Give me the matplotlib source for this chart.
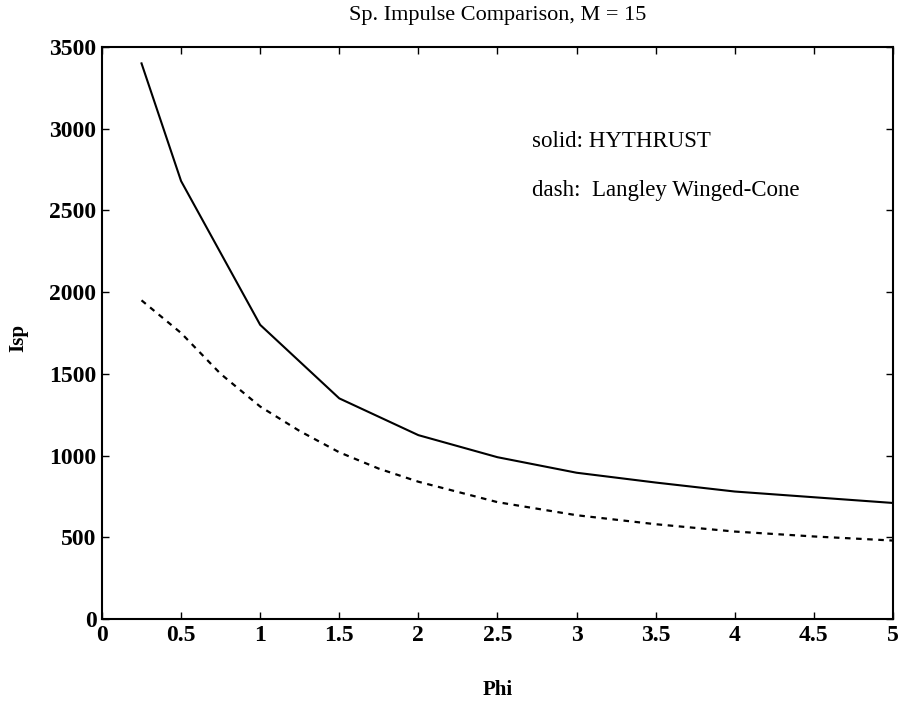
import matplotlib
matplotlib.use("Agg")
import matplotlib.pyplot as plt

# HYTHRUST (solid)
phi_hy = [0.25, 0.5, 1.0, 1.5, 2.0, 2.5, 3.0, 3.5, 4.0, 4.5, 5.0]
isp_hy = [3400, 2680, 1800, 1350, 1125, 990, 895, 835, 780, 745, 710]

# Langley Winged-Cone (dash)
phi_lw = [0.25, 0.5, 0.75, 1.0, 1.25, 1.5, 1.75, 2.0, 2.5, 3.0, 3.5, 4.0, 4.5, 5.0]
isp_lw = [1950, 1750, 1500, 1300, 1150, 1020, 920, 840, 715, 635, 580, 535, 505, 480]

xticks = [0, 0.5, 1, 1.5, 2, 2.5, 3, 3.5, 4, 4.5, 5]
xticklabels = ["0", "0.5", "1", "1.5", "2", "2.5", "3", "3.5", "4", "4.5", "5"]
yticks = [0, 500, 1000, 1500, 2000, 2500, 3000, 3500]

plt.rcParams["font.family"] = ["Liberation Serif", "DejaVu Serif"]

fig = plt.figure(figsize=(9, 7.03), dpi=100)
ax = fig.add_axes([0.1133, 0.1195, 0.8789, 0.8136])

ax.plot(phi_hy, isp_hy, color="black", lw=1.5, ls="-")
ax.plot(phi_lw, isp_lw, color="black", lw=1.6, ls=(0, (2.5, 2.5)))

ax.set_xlim(0, 5)
ax.set_ylim(0, 3500)
ax.set_xticks(xticks)
ax.set_xticklabels(xticklabels)
ax.set_yticks(yticks)
ax.tick_params(direction="in", top=True, right=True, length=5, width=1,
               labelsize=17, pad=4)
for lab in ax.get_xticklabels() + ax.get_yticklabels():
    lab.set_fontweight("bold")
for s in ax.spines.values():
    s.set_linewidth(1.5)

ax.text(2.72, 2920, "solid: HYTHRUST", fontsize=16.5, va="center", ha="left")
ax.text(2.72, 2625, "dash:  Langley Winged-Cone", fontsize=16.5, va="center", ha="left")

fig.text(0.553, 0.978, "Sp. Impulse Comparison, M = 15", fontsize=16,
         ha="center", va="center")
fig.text(498 / 900, 1 - 690 / 703, "Phi", fontsize=15, ha="center",
         va="center", fontweight="bold")
fig.text(18 / 900, 1 - 338 / 703, "Isp", fontsize=15, ha="center",
         va="center", rotation=90, fontweight="bold")

fig.savefig("out.png", dpi=100)
